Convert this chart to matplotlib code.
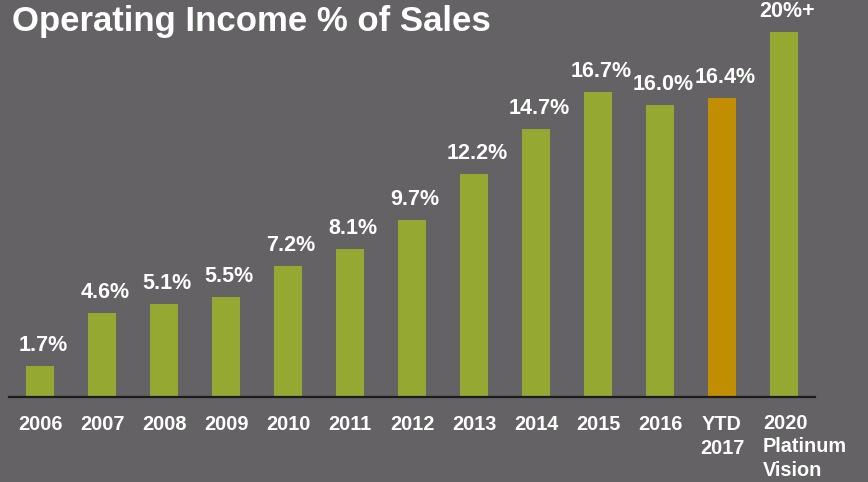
import matplotlib.pyplot as plt
from matplotlib.transforms import offset_copy

years = ["2006", "2007", "2008", "2009", "2010", "2011", "2012",
         "2013", "2014", "2015", "2016", "YTD\n2017", "2020"]
values = [1.7, 4.6, 5.1, 5.5, 7.2, 8.1, 9.7, 12.2, 14.7, 16.7, 16.0, 16.4, 20.0]
value_labels = ["1.7%", "4.6%", "5.1%", "5.5%", "7.2%", "8.1%", "9.7%",
                "12.2%", "14.7%", "16.7%", "16.0%", "16.4%", "20%+"]
last_label = "2020\nPlatinum\nVision"

bg = "#646264"
green = "#95a832"
orange = "#c08e00"

plt.rcParams["font.family"] = ["Liberation Sans", "DejaVu Sans"]

fig = plt.figure(figsize=(8.68, 4.82), dpi=100, facecolor=bg)
ax = fig.add_axes([9 / 868, 85 / 482, 806 / 868, 387 / 482])
ax.set_facecolor(bg)

x = list(range(len(years)))
colors = [orange if y.startswith("YTD") else green for y in years]
ax.bar(x, values, width=28 / 62, color=colors)

ax.set_xlim(-0.5, len(years) - 0.5)
ax.set_ylim(0, 387 / 18.26)

for spine in ["top", "left", "right"]:
    ax.spines[spine].set_visible(False)
ax.spines["bottom"].set_color("#1c1c1c")
ax.spines["bottom"].set_linewidth(1.6)
ax.set_yticks([])

# bar value labels
for xi, v, lab in zip(x, values, value_labels):
    tr = offset_copy(ax.transData, fig=fig, x=3, y=15, units="dots")
    ax.text(xi, v, lab, transform=tr, ha="center", va="baseline",
            color="white", fontsize=15.5, fontweight="bold")

# category labels
ax.set_xticks(x)
ax.set_xticklabels(years[:-1] + [""], color="white", fontsize=14.3,
                   fontweight="bold", linespacing=1.3, va="top")
ax.tick_params(axis="x", length=0, pad=13)
tr = offset_copy(ax.transData, fig=fig, x=-21, y=-17, units="dots")
ax.text(x[-1], 0, last_label, transform=tr, ha="left", va="top",
        color="white", fontsize=14.3, fontweight="bold", linespacing=1.3)

fig.text(12 / 868, 1 - 5 / 482, "Operating Income % of Sales", ha="left",
         va="top", color="white", fontsize=25, fontweight="bold")

fig.savefig("out.png", dpi=100, facecolor=bg)
